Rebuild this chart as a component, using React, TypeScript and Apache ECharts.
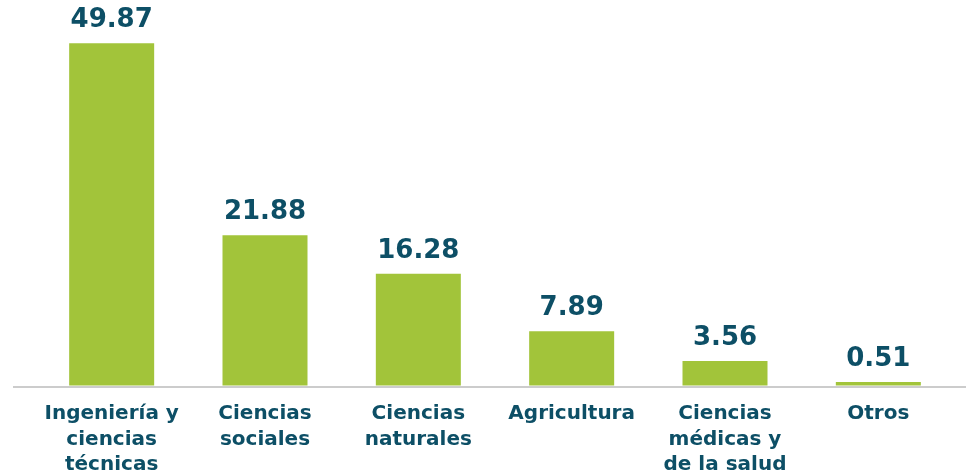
import React, { useEffect, useRef } from "react";
import * as echarts from "echarts";

const categories = [
  "Ingeniería y\nciencias\ntécnicas",
  "Ciencias\nsociales",
  "Ciencias\nnaturales",
  "Agricultura",
  "Ciencias\nmédicas y\nde la salud",
  "Otros",
];
const values = [49.87, 21.88, 16.28, 7.89, 3.56, 0.51];

const GREEN = "#a2c43a";
const TEAL = "#0d4f66";
const FONT = "DejaVu Sans";

export default function App() {
  const ref = useRef<HTMLDivElement>(null);
  useEffect(() => {
    if (!ref.current) return;
    const chart = echarts.init(ref.current, null, { renderer: "svg" });
    const gridBottom = 89;
    chart.setOption({
      animation: false,
      grid: { left: 35, right: 11, top: 8, bottom: gridBottom },
      xAxis: {
        type: "category",
        data: categories,
        axisLine: { show: false },
        axisTick: { show: false },
        axisLabel: {
          interval: 0,
          margin: 14,
          color: TEAL,
          fontFamily: FONT,
          fontWeight: "bold",
          fontSize: 20,
          lineHeight: 25.5,
        },
      },
      yAxis: {
        type: "value",
        min: 0,
        max: 55,
        show: false,
        splitLine: { show: false },
      },
      graphic: [
        {
          type: "line",
          shape: { x1: 13, y1: 476 - gridBottom, x2: 966, y2: 476 - gridBottom },
          style: { stroke: "#cccccc", lineWidth: 2 },
          z: 10,
        },
      ],
      series: [
        {
          type: "bar",
          data: values,
          barWidth: 85,
          itemStyle: { color: GREEN },
          label: {
            show: true,
            position: "top",
            distance: 12,
            color: TEAL,
            fontFamily: FONT,
            fontWeight: "bold",
            fontSize: 26,
            formatter: (p: any) => p.value.toFixed(2),
          },
        },
      ],
    });
    return () => chart.dispose();
  }, []);
  return (
    <div
      ref={ref}
      style={{ position: "fixed", left: 0, top: 0, width: 966, height: 476 }}
    />
  );
}
